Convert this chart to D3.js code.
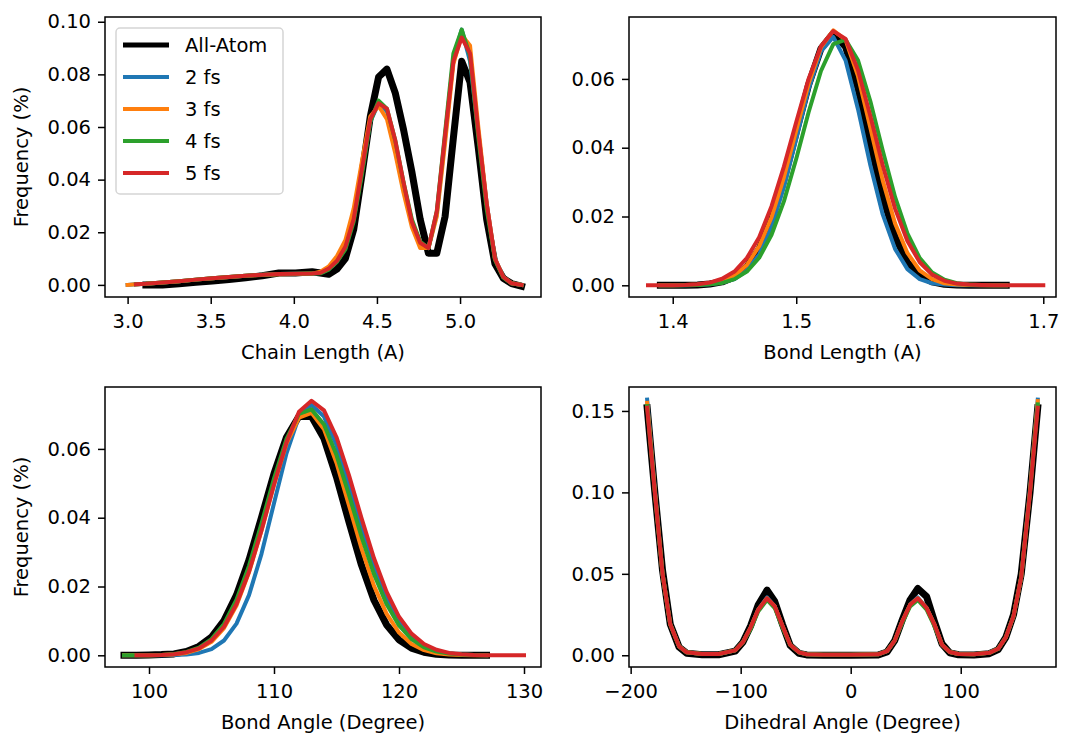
<!DOCTYPE html>
<html>
<head>
<meta charset="utf-8">
<script src="https://cdn.jsdelivr.net/npm/d3@7"></script>
<style>
  body { margin: 0; background: #fff; }
  svg text { font-family: "DejaVu Sans", sans-serif; }
</style>
</head>
<body>
<svg id="chart" width="1075" height="734"></svg>
<script>
// SERIES
const seriesNames = ["All-Atom", "2 fs", "3 fs", "4 fs", "5 fs"];
const seriesColors = ["#000000", "#1f77b4", "#ff7f0e", "#2ca02c", "#d62728"];

// CHAIN LENGTH (A)
const chainX = [3.0, 3.05, 3.11, 3.21, 3.31, 3.41, 3.51, 3.61, 3.71, 3.81, 3.91, 4.01, 4.11,
  4.16, 4.21, 4.26, 4.31, 4.36, 4.41, 4.46, 4.51, 4.56, 4.61, 4.66, 4.71, 4.76, 4.81, 4.86,
  4.91, 4.96, 5.01, 5.06, 5.11, 5.16, 5.21, 5.26, 5.31, 5.37];
const chainAllAtom = [null, null, 0.0, 0.0, 0.0004, 0.001, 0.0015, 0.002, 0.0027, 0.0035, 0.0045, 0.0045, 0.005,
  0.0045, 0.004, 0.006, 0.01, 0.021, 0.042, 0.064, 0.079, 0.082, 0.073, 0.059, 0.043, 0.025, 0.012, 0.012,
  0.026, 0.056, 0.085, 0.077, 0.052, 0.025, 0.008, 0.0025, 0.0005, -0.0005];
const chain2fs = [0.0, 0.0002, 0.0004, 0.0009, 0.0014, 0.002, 0.0025, 0.003, 0.0035, 0.0039, 0.0041, 0.0042, 0.0043,
  0.0045, 0.006, 0.009, 0.014, 0.025, 0.043, 0.062, 0.069, 0.066, 0.054, 0.038, 0.024, 0.016, 0.014, 0.027,
  0.056, 0.086, 0.097, 0.085, 0.058, 0.031, 0.01, 0.003, 0.0006, 0.0];
const chain3fs = [0.0, 0.0002, 0.0004, 0.0009, 0.0014, 0.002, 0.0025, 0.003, 0.0035, 0.0038, 0.004, 0.0041, 0.0043,
  0.005, 0.007, 0.011, 0.017, 0.029, 0.047, 0.064, 0.068, 0.063, 0.05, 0.035, 0.022, 0.014, 0.014, 0.026,
  0.054, 0.084, 0.095, 0.091, 0.06, 0.031, 0.01, 0.003, 0.0006, 0.0];
const chain4fs = [null, 0.0002, 0.0004, 0.0009, 0.0014, 0.002, 0.0025, 0.003, 0.0035, 0.0039, 0.0041, 0.0042, 0.0043,
  0.0044, 0.0058, 0.0088, 0.0135, 0.024, 0.042, 0.062, 0.07, 0.067, 0.055, 0.039, 0.025, 0.0165, 0.014, 0.028,
  0.058, 0.088, 0.097, 0.087, 0.056, 0.029, 0.0095, 0.0028, 0.0006, 0.0];
const chain5fs = [null, 0.0002, 0.0004, 0.0009, 0.0014, 0.002, 0.0025, 0.003, 0.0035, 0.0039, 0.0041, 0.0042, 0.0043,
  0.0046, 0.0062, 0.0092, 0.0145, 0.025, 0.044, 0.063, 0.069, 0.067, 0.055, 0.039, 0.024, 0.016, 0.014, 0.028,
  0.057, 0.085, 0.094, 0.088, 0.058, 0.031, 0.01, 0.003, 0.0006, 0.0];

// BOND LENGTH (A)
const bondX = [1.38, 1.39, 1.40, 1.41, 1.42, 1.43, 1.44, 1.45, 1.46, 1.47, 1.48, 1.49, 1.50, 1.51, 1.52, 1.53,
  1.54, 1.55, 1.56, 1.57, 1.58, 1.59, 1.60, 1.61, 1.62, 1.63, 1.64, 1.65, 1.66, 1.67, 1.68, 1.69, 1.70];
const bondAllAtom = [null, 0, 0, 0, 0.0001, 0.0004, 0.001, 0.0024, 0.0053, 0.0106, 0.0189, 0.0306, 0.0445, 0.0583, 0.0688, 0.0733,
  0.0693, 0.0572, 0.0412, 0.0258, 0.0141, 0.0067, 0.0028, 0.001, 0.0003, 0.0001, 0, 0, 0, 0, null, null, null];
const bond2fs = [null, 0, 0, 0, 0.0001, 0.0003, 0.0008, 0.0018, 0.0043, 0.009, 0.017, 0.0285, 0.0425, 0.057, 0.068, 0.0722,
  0.0653, 0.0512, 0.0349, 0.0206, 0.0106, 0.0047, 0.0018, 0.0006, 0.0002, 0, 0, 0, 0, 0, null, null, null];
const bond3fs = [null, 0, 0, 0.0001, 0.0002, 0.0005, 0.0012, 0.0028, 0.0059, 0.0114, 0.0198, 0.0314, 0.045, 0.0586, 0.0692, 0.0741,
  0.0713, 0.0608, 0.0458, 0.0305, 0.018, 0.0094, 0.0043, 0.0018, 0.0006, 0.0002, 0.0001, 0, 0, 0, null, null, null];
const bond4fs = [null, 0, 0, 0, 0.0001, 0.0003, 0.0007, 0.0018, 0.004, 0.008, 0.0147, 0.0244, 0.0368, 0.0503, 0.0623, 0.0701,
  0.0714, 0.0654, 0.0535, 0.0392, 0.0257, 0.0151, 0.0079, 0.0037, 0.0016, 0.0006, 0.0002, 0.0001, 0, 0, null, null, null];
const bond5fs = [0, 0, 0, 0.0001, 0.0003, 0.0008, 0.0019, 0.004, 0.0079, 0.014, 0.023, 0.0345, 0.0475, 0.06, 0.0695, 0.0739,
  0.0716, 0.0625, 0.0492, 0.0349, 0.0223, 0.0129, 0.0067, 0.0031, 0.0013, 0.0005, 0.0002, 0.0001, 0, 0, 0, 0, 0];

// BOND ANGLE (DEGREE)
const angleX = [98, 99, 100, 101, 102, 103, 104, 105, 106, 107, 108, 109, 110, 111, 112, 113, 114, 115, 116,
  117, 118, 119, 120, 121, 122, 123, 124, 125, 126, 127, 128, 129, 130];
const angleAllAtom = [0, 0, 0.0001, 0.0002, 0.0004, 0.0011, 0.0026, 0.0053, 0.0101, 0.0175, 0.0277, 0.0401, 0.0528,
  0.0634, 0.0695, 0.0694, 0.063, 0.0518, 0.0387, 0.0262, 0.016, 0.0089, 0.0045, 0.0021, 0.0009, 0.0003, 0.0001,
  0, 0, 0, null, null, null];
const angle2fs = [0, 0, 0, 0, 0.0001, 0.0002, 0.0007, 0.0018, 0.0043, 0.0092, 0.0175, 0.0295, 0.0442, 0.0587, 0.0694,
  0.0728, 0.0694, 0.0611, 0.0497, 0.0374, 0.0259, 0.0166, 0.0099, 0.0054, 0.0027, 0.0013, 0.0005, 0.0002, 0.0001,
  0, null, null, null];
const angle3fs = [0, 0, 0, 0.0001, 0.0003, 0.0007, 0.0018, 0.0039, 0.0079, 0.0145, 0.0241, 0.0363, 0.0496, 0.0615,
  0.0691, 0.0705, 0.0657, 0.0559, 0.0436, 0.0311, 0.0202, 0.0121, 0.0066, 0.0033, 0.0015, 0.0006, 0.0002, 0.0001,
  0, 0, null, null, null];
const angle4fs = [0, 0, 0, 0.0001, 0.0004, 0.001, 0.0022, 0.0047, 0.0091, 0.0162, 0.026, 0.0383, 0.0514, 0.0629,
  0.0702, 0.0715, 0.0671, 0.0582, 0.0466, 0.0345, 0.0236, 0.0149, 0.0087, 0.0047, 0.0023, 0.0011, 0.0005, 0.0002,
  0.0001, 0, null, null, null];
const angle5fs = [null, 0, 0, 0.0001, 0.0003, 0.0009, 0.002, 0.0043, 0.0083, 0.0149, 0.0243, 0.0363, 0.0496, 0.0619,
  0.0708, 0.074, 0.0712, 0.0634, 0.0523, 0.0399, 0.0282, 0.0185, 0.0112, 0.0063, 0.0033, 0.0016, 0.0007, 0.0003,
  0.0001, 0, 0, 0, 0];

// DIHEDRAL ANGLE (DEGREE)
const dihedralX = [-185, -178, -171, -164, -156, -149, -135, -120, -105, -98, -91, -84, -76, -69, -62, -55, -47,
  -40, -25, 0, 25, 33, 40, 47, 54, 61, 69, 76, 83, 90, 98, 112, 126, 134, 141, 148, 155, 163, 170];
const dihedralAllAtom = [0.152, 0.1, 0.052, 0.019, 0.005, 0.0012, 0.0003, 0.0003, 0.0025, 0.008, 0.018, 0.031, 0.04,
  0.033, 0.019, 0.006, 0.0012, 0.0002, 0, 0, 0.0002, 0.002, 0.009, 0.022, 0.034, 0.041, 0.036, 0.021, 0.007, 0.0015,
  0.0003, 0.0002, 0.001, 0.0035, 0.011, 0.025, 0.05, 0.1, 0.152];
const dihedral2fs = [0.157, 0.102, 0.05, 0.019, 0.0055, 0.0018, 0.0008, 0.0008, 0.003, 0.008, 0.017, 0.028, 0.0355,
  0.03, 0.018, 0.0065, 0.0018, 0.0006, 0.0003, 0.0003, 0.0006, 0.0025, 0.009, 0.021, 0.031, 0.0355, 0.029, 0.019,
  0.0065, 0.002, 0.0008, 0.0006, 0.0015, 0.004, 0.011, 0.024, 0.048, 0.102, 0.157];
const dihedral3fs = [0.155, 0.101, 0.05, 0.019, 0.0055, 0.0018, 0.0008, 0.0008, 0.003, 0.008, 0.017, 0.028, 0.035,
  0.03, 0.018, 0.0065, 0.0018, 0.0006, 0.0003, 0.0003, 0.0006, 0.0025, 0.009, 0.021, 0.031, 0.035, 0.029, 0.019,
  0.0065, 0.002, 0.0008, 0.0006, 0.0015, 0.004, 0.011, 0.024, 0.048, 0.101, 0.156];
const dihedral4fs = [0.153, 0.1, 0.05, 0.019, 0.0055, 0.0018, 0.0008, 0.0008, 0.003, 0.008, 0.016, 0.027, 0.034,
  0.029, 0.017, 0.0065, 0.0018, 0.0006, 0.0003, 0.0003, 0.0006, 0.0025, 0.009, 0.02, 0.03, 0.034, 0.028, 0.018,
  0.0065, 0.002, 0.0008, 0.0006, 0.0015, 0.004, 0.011, 0.024, 0.048, 0.1, 0.154];
const dihedral5fs = [0.152, 0.1, 0.05, 0.019, 0.0055, 0.0018, 0.0008, 0.0008, 0.003, 0.008, 0.017, 0.028, 0.035,
  0.03, 0.018, 0.0065, 0.0018, 0.0006, 0.0003, 0.0003, 0.0006, 0.0025, 0.009, 0.021, 0.031, 0.035, 0.029, 0.019,
  0.0065, 0.002, 0.0008, 0.0006, 0.0015, 0.004, 0.011, 0.024, 0.048, 0.1, 0.152];

// TICKS
const chainTicks = [3.0, 3.5, 4.0, 4.5, 5.0];
const chainYTicks = [0, 0.02, 0.04, 0.06, 0.08, 0.10];
const bondTicks = [1.4, 1.5, 1.6, 1.7];
const angleTicks = [100, 110, 120, 130];
const freqTicks = [0, 0.02, 0.04, 0.06];
const dihedralTicks = [-200, -100, 0, 100];
const dihedralYTicks = [0, 0.05, 0.10, 0.15];

// LAYOUT
const fontSize = 19.5;
const lineWidths = [7, 4, 4, 4, 4];

const panels = [
  { x: chainX, ys: [chainAllAtom, chain2fs, chain3fs, chain4fs, chain5fs],
    xDomain: [2.864, 5.487], yDomain: [-0.0046, 0.1018], xTicks: chainTicks, yTicks: chainYTicks,
    xFormat: d3.format(".1f"), yFormat: d3.format(".2f"),
    xLabel: "Chain Length (A)", yLabel: "Frequency (%)", left: 105, top: 17, legend: true },
  { x: bondX, ys: [bondAllAtom, bond2fs, bond3fs, bond4fs, bond5fs],
    xDomain: [1.3646, 1.7103], yDomain: [-0.0034, 0.078], xTicks: bondTicks, yTicks: freqTicks,
    xFormat: d3.format(".1f"), yFormat: d3.format(".2f"),
    xLabel: "Bond Length (A)", yLabel: null, left: 629, top: 17 },
  { x: angleX, ys: [angleAllAtom, angle2fs, angle3fs, angle4fs, angle5fs],
    xDomain: [96.48, 131.36], yDomain: [-0.0034, 0.078], xTicks: angleTicks, yTicks: freqTicks,
    xFormat: d3.format("d"), yFormat: d3.format(".2f"),
    xLabel: "Bond Angle (Degree)", yLabel: "Frequency (%)", left: 105, top: 387 },
  { x: dihedralX, ys: [dihedralAllAtom, dihedral2fs, dihedral3fs, dihedral4fs, dihedral5fs],
    xDomain: [-201.5, 186.6], yDomain: [-0.0072, 0.1647], xTicks: dihedralTicks, yTicks: dihedralYTicks,
    xFormat: d3.format("d"), yFormat: d3.format(".2f"),
    xLabel: "Dihedral Angle (Degree)", yLabel: null, left: 629, top: 387 },
];
panels[0].w = 436; panels[2].w = 436; panels[1].w = 427; panels[3].w = 427;
panels.forEach((p) => (p.h = 280));

const svg = d3.select("#chart");

function styleAxis(ax) {
  ax.select(".domain").remove();
  ax.selectAll(".tick line").attr("stroke", "#000").attr("stroke-width", 1.5);
  ax.selectAll(".tick text").attr("fill", "#000").style("font-size", fontSize + "px");
}

panels.forEach((p) => {
  const g = svg.append("g").attr("transform", `translate(${p.left},${p.top})`);

  const x = d3.scaleLinear().domain(p.xDomain).range([0, p.w]);
  const y = d3.scaleLinear().domain(p.yDomain).range([p.h, 0]);

  const line = d3
    .line()
    .defined((d) => d[1] !== null)
    .x((d) => x(d[0]))
    .y((d) => y(d[1]));

  p.ys.forEach((vals, i) => {
    g.append("path")
      .datum(p.x.map((xv, j) => [xv, vals[j]]))
      .attr("d", line)
      .attr("fill", "none")
      .attr("stroke", seriesColors[i])
      .attr("stroke-width", lineWidths[i])
      .attr("stroke-linejoin", "round")
      .attr("stroke-linecap", "square");
  });

  const xAxis = g
    .append("g")
    .attr("transform", `translate(0,${p.h})`)
    .call(d3.axisBottom(x).tickValues(p.xTicks).tickFormat(p.xFormat).tickSize(7).tickPadding(10));
  styleAxis(xAxis);

  const yAxis = g
    .append("g")
    .call(d3.axisLeft(y).tickValues(p.yTicks).tickFormat(p.yFormat).tickSize(7).tickPadding(7));
  styleAxis(yAxis);

  // spines
  g.append("rect")
    .attr("width", p.w)
    .attr("height", p.h)
    .attr("fill", "none")
    .attr("stroke", "#000")
    .attr("stroke-width", 1.5);

  g.append("text")
    .attr("x", p.w / 2)
    .attr("y", p.h + 62)
    .attr("text-anchor", "middle")
    .style("font-size", fontSize + "px")
    .text(p.xLabel);

  if (p.yLabel) {
    g.append("text")
      .attr("transform", `translate(${28 - p.left},${p.h / 2}) rotate(-90)`)
      .attr("text-anchor", "middle")
      .style("font-size", fontSize + "px")
      .text(p.yLabel);
  }

  if (p.legend) {
    const lg = g.append("g").attr("transform", "translate(11,11)");
    lg.append("rect")
      .attr("width", 167)
      .attr("height", 166)
      .attr("rx", 4)
      .attr("fill", "rgba(255,255,255,0.8)")
      .attr("stroke", "#d5d5d5")
      .attr("stroke-width", 1.5);
    const items = lg
      .selectAll("g.item")
      .data(seriesNames)
      .join("g")
      .attr("class", "item")
      .attr("transform", (d, i) => `translate(0,${17 + i * 32})`);
    items
      .append("line")
      .attr("x1", 7)
      .attr("x2", 53)
      .attr("stroke", (d, i) => seriesColors[i])
      .attr("stroke-width", (d, i) => (i === 0 ? 5 : 4));
    items
      .append("text")
      .attr("x", 69)
      .attr("dy", "0.36em")
      .style("font-size", fontSize + "px")
      .text((d) => d);
  }
});
</script>
</body>
</html>
